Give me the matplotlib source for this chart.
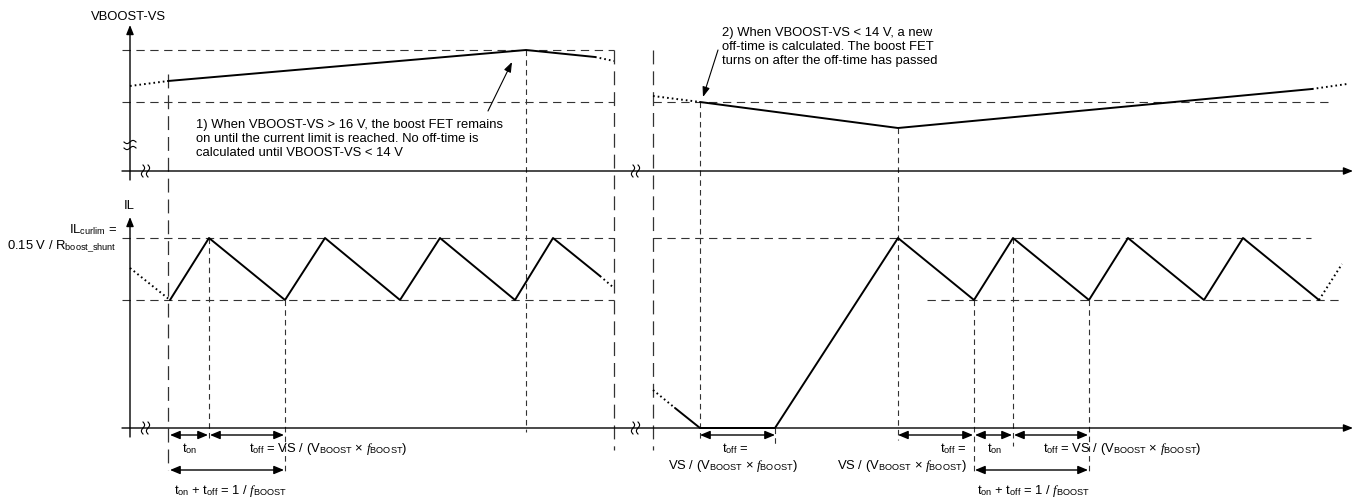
import numpy as np
import matplotlib
matplotlib.use("Agg")
import matplotlib.pyplot as plt

plt.rcParams["font.family"] = ["Liberation Sans", "DejaVu Sans"]
plt.rcParams["mathtext.fontset"] = "custom"
plt.rcParams["mathtext.rm"] = "Liberation Sans"
plt.rcParams["mathtext.it"] = "Liberation Serif:italic"
plt.rcParams["lines.scale_dashes"] = False

# diagram units: x = time position, y = level (screen-like, grows downward)
# VBOOST-VS trace
vb_left_lead_x = [130, 168]
vb_left_lead_y = [86, 81]
vb_left_x = [168, 526, 595]
vb_left_y = [81, 50, 57]
vb_left_tail_x = [595, 614]
vb_left_tail_y = [57, 61]
vb_right_lead_x = [653, 700]
vb_right_lead_y = [96, 102]
vb_right_x = [700, 898, 1312]
vb_right_y = [102, 128, 89]
vb_right_tail_x = [1312, 1347]
vb_right_tail_y = [89, 84]

# IL trace
il_left_lead_x = [130, 170]
il_left_lead_y = [268, 300]
il_left_x = [170, 209, 285, 325, 400, 440, 515, 553, 600]
il_left_y = [300, 238, 300, 238, 300, 238, 300, 238, 276]
il_left_tail_x = [600, 614]
il_left_tail_y = [276, 288]
il_right_lead_x = [653, 675]
il_right_lead_y = [390, 408]
il_right_x = [675, 700, 775, 898, 974, 1013, 1089, 1128, 1204, 1243, 1319]
il_right_y = [408, 428, 428, 238, 300, 238, 300, 238, 300, 238, 300]
il_right_tail_x = [1319, 1342]
il_right_tail_y = [300, 264]

# reference levels (y)
vb_hi, vb_lo = 50, 102
il_hi, il_lo = 238, 300
top_axis, bot_axis = 171, 428

# vertical markers: (x, y_from, y_to)
long_marks = [(168, 74, 470), (614, 50, 450), (653, 50, 450)]
short_marks = [(209, 238, 440), (285, 300, 472), (526, 50, 432),
               (700, 102, 440), (775, 428, 446), (898, 128, 440),
               (974, 300, 475), (1013, 238, 446), (1089, 300, 475)]

# dimension arrows: (x0, x1, y)
dims = [(170, 208, 435), (210, 284, 435), (170, 284, 470),
        (700, 775, 435), (898, 973, 435), (975, 1012, 435),
        (1014, 1088, 435), (975, 1088, 470)]

ton = r"t$_\mathrm{on}$"
toff = r"t$_\mathrm{off}$ ="
vs_expr = r"VS / (V$_\mathrm{BOOST}$ × $\mathit{f}_\mathrm{BOOST}$)"
period = r"t$_\mathrm{on}$ + t$_\mathrm{off}$ = 1 / $\mathit{f}_\mathrm{BOOST}$"

note1 = ("1) When VBOOST-VS > 16 V, the boost FET remains\n"
         "on until the current limit is reached. No off-time is\n"
         "calculated until VBOOST-VS < 14 V")
note2 = ("2) When VBOOST-VS < 14 V, a new\n"
         "off-time is calculated. The boost FET\n"
         "turns on after the off-time has passed")

fig = plt.figure(figsize=(13.55, 5.0), dpi=100)
ax = fig.add_axes([0, 0, 1, 1])
ax.set_xlim(0, 1355)
ax.set_ylim(500, 0)
ax.axis("off")

FS = 9.4
solid = dict(color="black", lw=1.4, solid_capstyle="round")
dotted = dict(color="black", lw=1.4, linestyle=(0, (1.2, 2.2)))
hdash = dict(color="#333333", lw=0.8, linestyle=(0, (6, 4)))
sdash = dict(color="#333333", lw=0.8, linestyle=(0, (4, 3)))
ldash = dict(color="#333333", lw=0.9, linestyle=(0, (10, 5)))

# reference levels
ax.plot([122, 614], [vb_hi, vb_hi], **hdash)
ax.plot([122, 614], [vb_lo, vb_lo], **hdash)
ax.plot([653, 1332], [vb_lo, vb_lo], **hdash)
ax.plot([122, 614], [il_hi, il_hi], **hdash)
ax.plot([122, 614], [il_lo, il_lo], **hdash)
ax.plot([653, 1311], [il_hi, il_hi], **hdash)
ax.plot([927, 1339], [il_lo, il_lo], **hdash)

for x, y0, y1 in long_marks:
    ax.plot([x, x], [y0, y1], **ldash)
for x, y0, y1 in short_marks:
    ax.plot([x, x], [y0, y1], **sdash)

# axes with arrow heads
arrow_kw = dict(arrowstyle="-|>,head_length=0.55,head_width=0.22",
                color="black", lw=1.0, mutation_scale=10,
                shrinkA=0, shrinkB=0)
ax.annotate("", xy=(1353, top_axis), xytext=(122, top_axis), arrowprops=arrow_kw)
ax.annotate("", xy=(1353, bot_axis), xytext=(122, bot_axis), arrowprops=arrow_kw)
ax.annotate("", xy=(130, 25), xytext=(130, 180), arrowprops=arrow_kw)
ax.annotate("", xy=(130, 217), xytext=(130, 437), arrowprops=arrow_kw)

# break marks
t = np.linspace(0, 1, 30)
for bx in (143, 633):
    for yc in (top_axis, bot_axis):
        for dx in (0, 5):
            ax.plot(bx + dx + 1.6 * np.sin(2 * np.pi * t), yc - 6 + 12 * t,
                    color="black", lw=0.8)
for yc in (142, 148):
    ax.plot(124 + 12 * t, yc + 1.6 * np.sin(2 * np.pi * t), color="black", lw=0.8)

# traces
ax.plot(vb_left_lead_x, vb_left_lead_y, **dotted)
ax.plot(vb_left_x, vb_left_y, **solid)
ax.plot(vb_left_tail_x, vb_left_tail_y, **dotted)
ax.plot(vb_right_lead_x, vb_right_lead_y, **dotted)
ax.plot(vb_right_x, vb_right_y, **solid)
ax.plot(vb_right_tail_x, vb_right_tail_y, **dotted)

ax.plot(il_left_lead_x, il_left_lead_y, **dotted)
ax.plot(il_left_x, il_left_y, **solid)
ax.plot(il_left_tail_x, il_left_tail_y, **dotted)
ax.plot(il_right_lead_x, il_right_lead_y, **dotted)
ax.plot(il_right_x, il_right_y, **solid)
ax.plot(il_right_tail_x, il_right_tail_y, **dotted)

# dimension arrows
dim_kw = dict(arrowstyle="<|-|>,head_length=0.6,head_width=0.25",
              color="black", lw=1.0, mutation_scale=10,
              shrinkA=0, shrinkB=0)
for x0, x1, y in dims:
    ax.annotate("", xy=(x1, y), xytext=(x0, y), arrowprops=dim_kw)

# axis labels
ax.text(128, 17, "VBOOST-VS", fontsize=FS, ha="center", va="center")
ax.text(129, 206, "IL", fontsize=FS, ha="center", va="center")
ax.text(117, 230, r"IL$_\mathrm{curlim}$ =", fontsize=FS, ha="right", va="center")
ax.text(117, 247, r"0.15 V / R$_\mathrm{boost\_shunt}$", fontsize=FS,
        ha="right", va="center")

# notes
note_arrow = dict(arrowstyle="-|>,head_length=0.6,head_width=0.22",
                  color="black", lw=0.8, mutation_scale=10,
                  shrinkA=0, shrinkB=0)
ax.text(196, 139, note1, fontsize=FS, ha="left", va="center", linespacing=1.25)
ax.annotate("", xy=(512, 62), xytext=(488, 111), arrowprops=note_arrow)
ax.text(722, 47, note2, fontsize=FS, ha="left", va="center", linespacing=1.2)
ax.annotate("", xy=(703, 97), xytext=(718, 50), arrowprops=note_arrow)

# timing labels
ax.text(190, 449, ton, fontsize=FS, ha="center", va="center")
ax.text(249, 449, toff + " " + vs_expr, fontsize=FS, ha="left", va="center")
ax.text(231, 491, period, fontsize=FS, ha="center", va="center")

ax.text(735, 449, toff, fontsize=FS, ha="center", va="center")
ax.text(733, 466, vs_expr, fontsize=FS, ha="center", va="center")
ax.text(967, 449, toff, fontsize=FS, ha="right", va="center")
ax.text(967, 466, vs_expr, fontsize=FS, ha="right", va="center")
ax.text(995, 449, ton, fontsize=FS, ha="center", va="center")
ax.text(1043, 449, toff + " " + vs_expr, fontsize=FS, ha="left", va="center")
ax.text(1034, 491, period, fontsize=FS, ha="center", va="center")

fig.savefig("out.png", dpi=100)
